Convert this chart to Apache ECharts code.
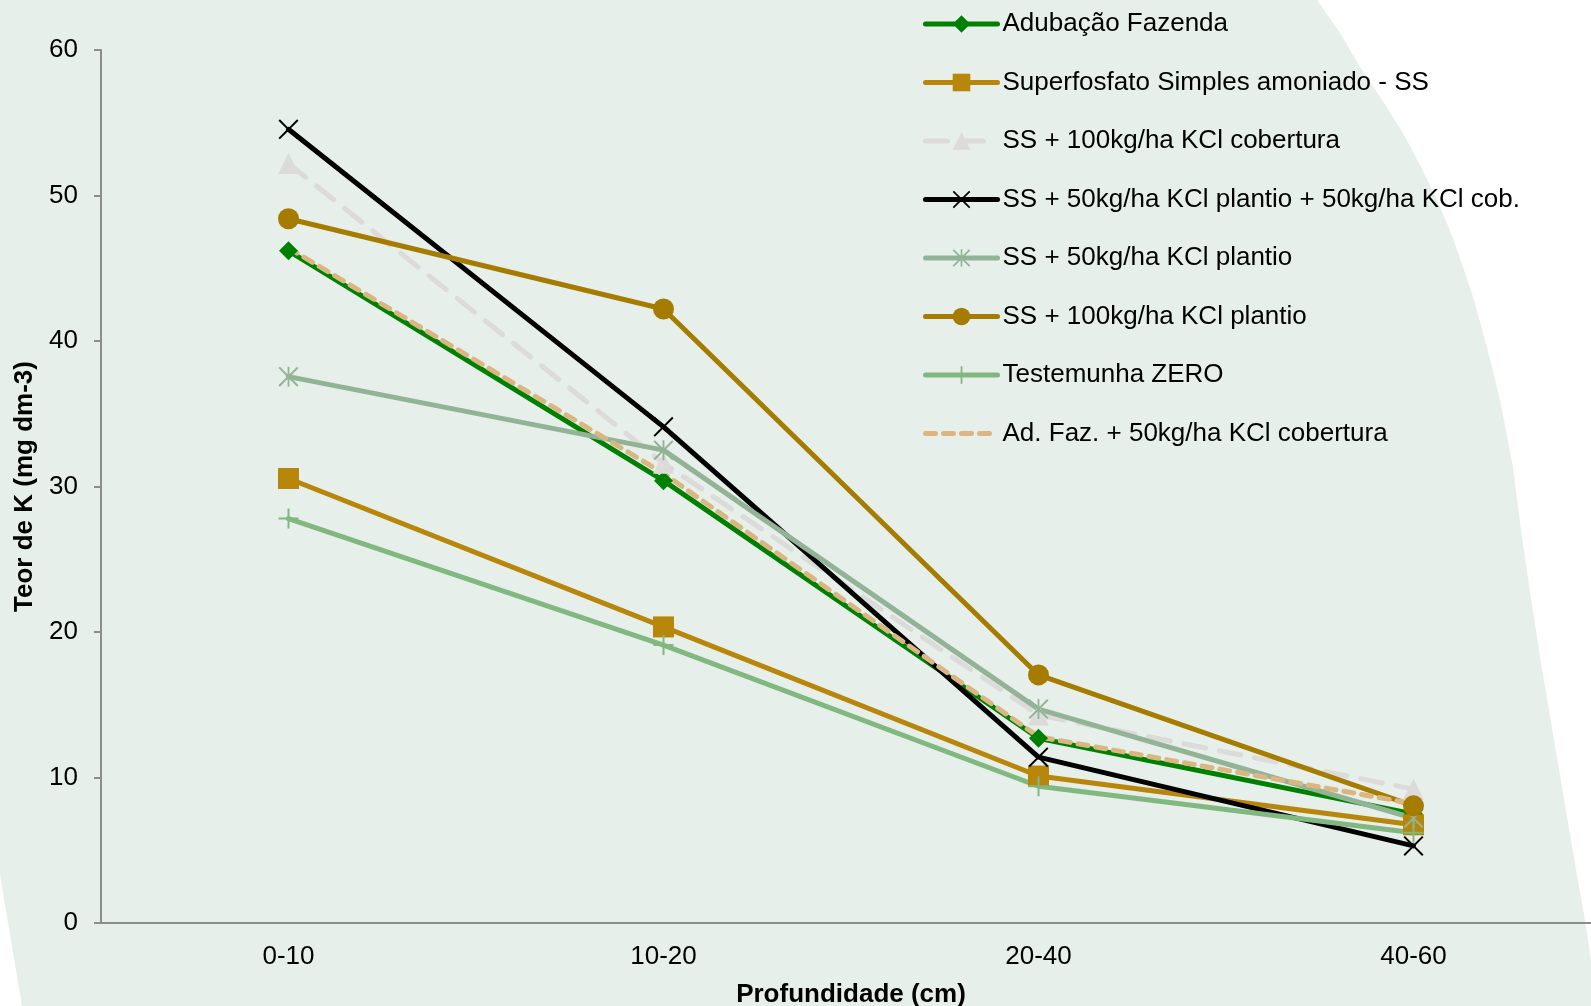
<!DOCTYPE html>
<html>
<head>
<meta charset="utf-8">
<title>Teor de K por profundidade</title>
<script src="https://cdn.jsdelivr.net/npm/echarts@6/dist/echarts.min.js"></script>
<style>
  html, body { margin: 0; padding: 0; background: #ffffff; }
  #chart { width: 1591px; height: 1006px; }
</style>
</head>
<body>
<div id="chart"></div>
<script>
// Soil depth layers (cm)
const categories = ['0-10', '10-20', '20-40', '40-60'];

// K content (mg dm-3) per treatment, one value per depth layer
const adubacaoFazenda   = [46.2, 30.4, 12.7, 7.5];
const superfosfatoSS    = [30.55, 20.35, 10.1, 6.75];
const ss100Cobertura    = [52.2, 31.6, 14.3, 9.2];
const ss50Plantio50Cob  = [54.55, 34.1, 11.4, 5.3];
const ss50Plantio       = [37.55, 32.5, 14.7, 7.2];
const ss100Plantio      = [48.4, 42.2, 17.05, 8.05];
const testemunhaZero    = [27.8, 19.1, 9.4, 6.2];
const adFaz50Cobertura  = [46.4, 30.9, 12.8, 8.2];

const yTicks = [0, 10, 20, 30, 40, 50, 60];

// Thin outline glyphs for the cross, asterisk and plus markers
const crossPath = 'path://M0,7L7,0L50,43L93,0L100,7L57,50L100,93L93,100L50,57L7,100L0,93L43,50Z';
const starPath  = 'path://M0,7L7,0L50,43L93,0L100,7L57,50L100,93L93,100L50,57L7,100L0,93L43,50Z' +
                  'M45.5,0L54.5,0L54.5,100L45.5,100Z';
const plusPath  = 'path://M45,0L55,0L55,45L100,45L100,55L55,55L55,100L45,100L45,55L0,55L0,45L45,45Z';

const FONT = "'Liberation Sans', Arial, sans-serif";
const LINE_W = 5;

function lineSeries(name, data, color, symbol, size, lineType) {
  return {
    name: name,
    type: 'line',
    data: data,
    symbol: symbol,
    symbolSize: size,
    showSymbol: symbol !== 'none',
    lineStyle: { color: color, width: LINE_W, type: lineType || 'solid', cap: 'round', join: 'round' },
    itemStyle: { color: color, borderWidth: 0 },
    emphasis: { disabled: true }
  };
}

const series = [
  lineSeries('Adubação Fazenda', adubacaoFazenda, '#008000', 'diamond', 19),
  lineSeries('Superfosfato Simples amoniado - SS', superfosfatoSS, '#b8860b', 'rect', 21),
  lineSeries('SS + 100kg/ha KCl cobertura', ss100Cobertura, '#dddada', 'triangle', 21, [22, 14]),
  lineSeries('SS + 50kg/ha KCl plantio + 50kg/ha KCl cob.', ss50Plantio50Cob, '#000000', crossPath, 20),
  lineSeries('SS + 50kg/ha KCl plantio', ss50Plantio, '#93b396', starPath, 20),
  lineSeries('SS + 100kg/ha KCl plantio', ss100Plantio, '#a67c00', 'circle', 21),
  lineSeries('Testemunha ZERO', testemunhaZero, '#80b880', plusPath, 20),
  lineSeries('Ad. Faz. + 50kg/ha KCl cobertura', adFaz50Cobertura, '#dcb682', 'none', 0, [10, 8])
];

// Backdrop panel: light green sheet with a curved right edge and a clipped lower-left corner
const panelPoints = [
  [0, 0], [1317, 0], [1340, 33], [1360, 67], [1382, 100], [1403, 133], [1421, 167],
  [1437, 200], [1451, 233], [1463, 267], [1474, 300], [1483, 333], [1492, 367],
  [1500, 400], [1513, 467], [1521, 530], [1530, 592], [1541, 663], [1553, 734],
  [1565, 805], [1577, 875], [1585, 920], [1591, 960], [1591, 1006], [22, 1006], [0, 875]
];

const chart = echarts.init(document.getElementById('chart'), null, { renderer: 'canvas' });
chart.setOption({
  animation: false,
  backgroundColor: '#ffffff',
  graphic: [{
    type: 'polygon',
    z: -10,
    silent: true,
    shape: { points: panelPoints },
    style: { fill: '#e6efe9' }
  }],
  grid: { left: 101, top: 50, width: 1500, height: 873, containLabel: false, outerBoundsMode: 'none' },
  legend: {
    orient: 'vertical',
    left: 918,
    top: 6,
    itemWidth: 72,
    itemHeight: 22,
    itemGap: 32.5,
    selectedMode: false,
    lineStyle: { width: LINE_W },
    textStyle: { fontFamily: FONT, fontSize: 26, color: '#000', lineHeight: 26 },
    data: series.map(s => s.symbol === 'none'
      ? { name: s.name, itemStyle: { opacity: 0 } }
      : { name: s.name })
  },
  xAxis: {
    type: 'category',
    data: categories,
    boundaryGap: true,
    name: 'Profundidade (cm)',
    nameLocation: 'middle',
    nameGap: 59,
    nameTextStyle: { fontFamily: FONT, fontSize: 26, fontWeight: 'bold', color: '#000' },
    axisLine: { show: true, lineStyle: { color: '#8c8c8c', width: 2 } },
    axisTick: { show: false },
    axisLabel: { fontFamily: FONT, fontSize: 26, color: '#000', margin: 21 },
    splitLine: { show: false }
  },
  yAxis: {
    type: 'value',
    min: yTicks[0],
    max: yTicks[yTicks.length - 1],
    interval: 10,
    name: 'Teor de K (mg dm-3)',
    nameLocation: 'middle',
    nameGap: 63,
    nameTextStyle: { fontFamily: FONT, fontSize: 26, fontWeight: 'bold', color: '#000' },
    axisLine: { show: true, lineStyle: { color: '#8c8c8c', width: 2 } },
    axisTick: { show: true, inside: false, length: 7, lineStyle: { color: '#8c8c8c', width: 2 } },
    axisLabel: { fontFamily: FONT, fontSize: 26, color: '#000', margin: 23 },
    splitLine: { show: false }
  },
  series: series
});
</script>
</body>
</html>
